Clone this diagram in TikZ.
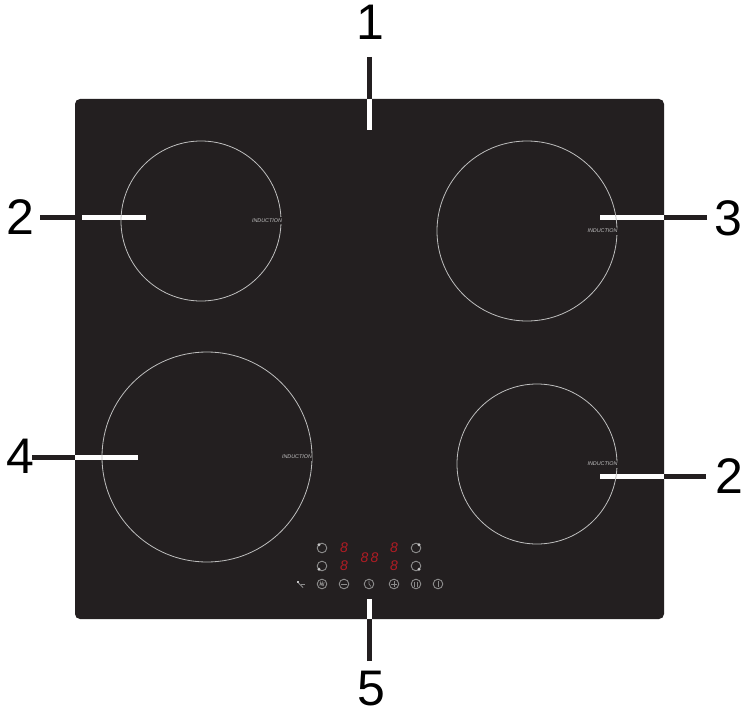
\documentclass[tikz,border=0pt]{standalone}
\usepackage{fontspec}
\setmainfont{Liberation Sans}
\definecolor{panel}{HTML}{231F20}
\definecolor{ledred}{HTML}{B01C24}
\definecolor{ring}{HTML}{BEBEBE}
\definecolor{icon}{HTML}{8C8C8C}
\tikzset{
  callout/.style={font=\fontsize{50}{50}\selectfont,text=black,inner sep=0pt,anchor=center},
  outer/.style={draw=panel,line width=5pt},
  inner/.style={draw=white,line width=5pt},
  zone/.style={draw=ring,line width=0.8pt},
  zonetext/.style={font=\itshape\fontsize{5.4}{5.4}\selectfont,text=ring,inner sep=0pt,fill=panel,minimum height=7pt},
  btn/.style={circle,draw=icon,line width=0.9pt,minimum size=9.6pt,inner sep=0pt},
  glyph/.style={draw=icon,line width=0.9pt},
  dotmark/.style={fill=icon!50!white},
  seven/.style={font=\itshape\fontsize{14}{14}\selectfont,text=ledred,inner sep=0pt},
}
\begin{document}
\begin{tikzpicture}[x=1pt,y=-1pt]
\useasboundingbox (0,0) rectangle (745,709);
\fill[panel,rounded corners=5pt] (75,99) rectangle (664,619);
\node[callout] (n1) at (370,22.5) {1};
\node[callout] (n2a) at (20.5,217.5) {2};
\node[callout] (n3) at (728.5,218.5) {3};
\node[callout] (n4) at (20.5,456.5) {4};
\node[callout] (n2b) at (729.5,476.5) {2};
\node[callout] (n5) at (371,688.5) {5};
\coordinate (t1) at (369.5,57); \coordinate (e1) at (369.5,99); \coordinate (w1) at (369.5,130);
\coordinate (t2a) at (40,217.5); \coordinate (e2a) at (75,217.5); \coordinate (s2a) at (82,217.5); \coordinate (w2a) at (146,217.5);
\coordinate (t3) at (707,217.5); \coordinate (e3) at (664,217.5); \coordinate (w3) at (600,217.5);
\coordinate (t4) at (32,457); \coordinate (e4) at (75,457); \coordinate (w4) at (138,457);
\coordinate (t2b) at (706,476); \coordinate (e2b) at (664,476); \coordinate (w2b) at (600,476);
\coordinate (t5) at (369.5,661); \coordinate (e5) at (369.5,619); \coordinate (w5) at (369.5,599);
\draw[outer] (t1) -- (e1);
\draw[inner] (e1) -- (w1);
\draw[outer] (t2a) -- (e2a);
\draw[inner] (s2a) -- (w2a);
\draw[outer] (t3) -- (e3);
\draw[inner] (e3) -- (w3);
\draw[outer] (t4) -- (e4);
\draw[inner] (e4) -- (w4);
\draw[outer] (t2b) -- (e2b);
\draw[inner] (e2b) -- (w2b);
\draw[outer] (t5) -- (e5);
\draw[inner] (e5) -- (w5);
\draw[zone] (201,221) circle (80);
\draw[zone] (527,231) circle (90);
\draw[zone] (207,457) circle (105);
\draw[zone] (537,464) circle (80);
\node[zonetext] (z1) at (267,220.5) {INDUCTION};
\node[zonetext] (z2) at (602.5,231) {INDUCTION};
\node[zonetext] (z3) at (297,457) {INDUCTION};
\node[zonetext] (z4) at (602.5,464) {INDUCTION};
\node[btn] (a) at (322,548) {};
\node[btn] (b) at (322,566) {};
\node[btn] (c) at (416,548) {};
\node[btn] (d) at (416,566) {};
\fill[dotmark] (319,544.7) circle (1.6);
\fill[dotmark] (319,569.3) circle (1.6);
\fill[dotmark] (419,544.7) circle (1.6);
\fill[dotmark] (419,569.3) circle (1.6);
\node[seven] (s1) at (344,548) {8};
\node[seven] (s2) at (344,566) {8};
\node[seven] (s3) at (364.5,558) {8};
\node[seven] (s4) at (374.5,558) {8};
\node[seven] (s5) at (394,548) {8};
\node[seven] (s6) at (394,566) {8};
\node[btn] (bm) at (322,584) {};
\node[btn] (bminus) at (344,584) {};
\node[btn] (bclock) at (369,584) {};
\node[btn] (bplus) at (394,584) {};
\node[btn] (bp) at (416,584) {};
\node[btn] (bi) at (438,584) {};
\draw[glyph,line width=0.6pt] (319.8,586) -- (320.3,582.2) -- (321.3,585) -- (322.3,582.2) -- (322.8,586) (323.2,586) -- (324.2,582.2);
\draw[glyph] (341,584) -- (347,584);
\draw[glyph,line width=0.7pt] (369,580.5) -- (369,584) -- (371,586.5);
\draw[glyph] (391,584) -- (397,584) (394,581) -- (394,587);
\draw[glyph,line width=0.7pt] (414.8,581.5) -- (414.8,586.5) (417.2,581.5) -- (417.2,586.5);
\draw[glyph] (438,581) -- (438,587);
\fill[dotmark] (296.5,580.5) rectangle (299,583);
\draw[glyph,line width=0.8pt] (298.5,583) -- (303,587.5);
\draw[glyph,line width=0.8pt] (301,584.5) -- (305,584.5);
\end{tikzpicture}
\end{document}
